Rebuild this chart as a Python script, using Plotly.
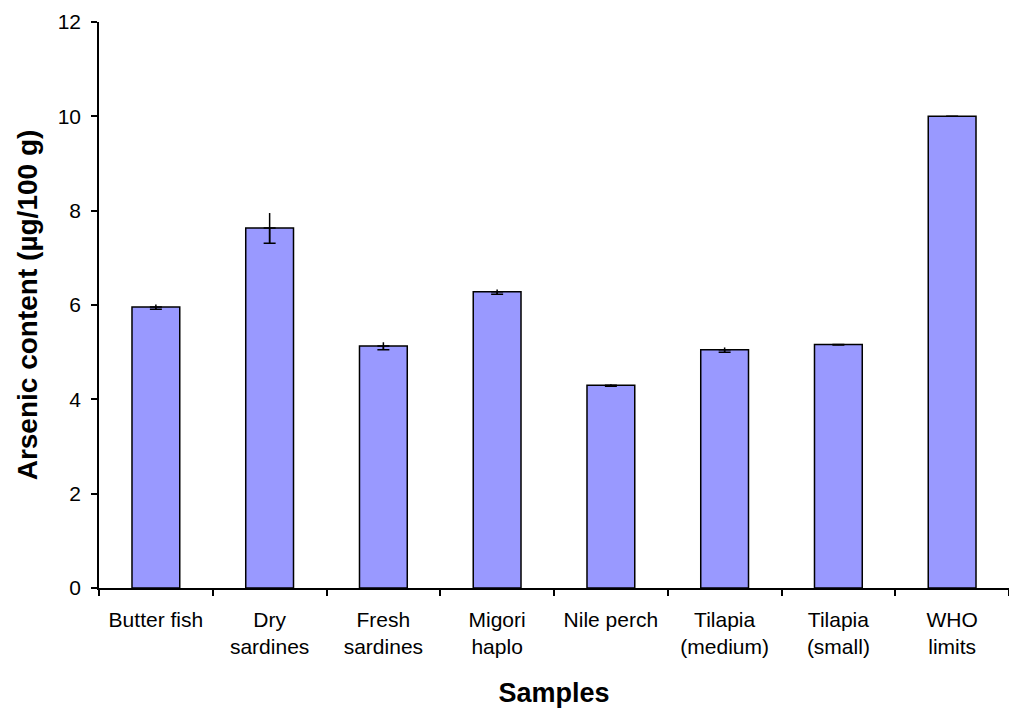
import plotly.graph_objects as go

categories = ["Butter fish", "Dry<br>sardines", "Fresh<br>sardines", "Migori<br>haplo",
              "Nile perch", "Tilapia<br>(medium)", "Tilapia<br>(small)", "WHO<br>limits"]
values = [5.96, 7.63, 5.13, 6.28, 4.30, 5.05, 5.16, 10.0]
errors = [0.05, 0.32, 0.08, 0.05, 0.02, 0.05, 0.01, 0.0]
y_ticks = [0, 2, 4, 6, 8, 10, 12]

zeros = [0] * len(values)

fig = go.Figure()
fig.add_trace(go.Bar(
    x=categories, y=values, width=0.42,
    marker=dict(color="#9999FF", line=dict(color="black", width=1.5)),
    error_y=dict(type="data", array=errors, arrayminus=errors, visible=True,
                 color="black", thickness=1.5, width=0),
))
# caps only at the lower end (as in the reference)
fig.add_trace(go.Scatter(
    x=categories, y=values, mode="markers", marker=dict(size=1, opacity=0),
    error_y=dict(type="data", array=zeros, arrayminus=errors, visible=True,
                 color="black", thickness=1.5, width=6),
    hoverinfo="skip",
))

font = "Liberation Sans, Arial, sans-serif"
fig.update_layout(
    width=1009, height=709,
    margin=dict(l=99, r=0, t=22, b=121),
    plot_bgcolor="white", paper_bgcolor="white",
    font=dict(family=font, size=21, color="black"),
    showlegend=False,
    xaxis=dict(
        showline=True, linecolor="black", linewidth=1.5,
        ticks="outside", tickson="boundaries", ticklen=6, tickcolor="black", tickwidth=1.5,
        tickfont=dict(size=21), ticklabelstandoff=12,
        title=dict(text="<b>Samples</b>", font=dict(size=27), standoff=26),
    ),
    yaxis=dict(
        range=[0, 12], tickvals=y_ticks, showgrid=False, zeroline=False,
        showline=True, linecolor="black", linewidth=1.5,
        ticks="outside", ticklen=6, tickcolor="black", tickwidth=1.5,
        tickfont=dict(size=21), ticklabelstandoff=6,
        title=dict(text="<b>Arsenic content (µg/100 g)</b>", font=dict(size=28), standoff=12),
    ),
)

fig.write_html("out.html")
